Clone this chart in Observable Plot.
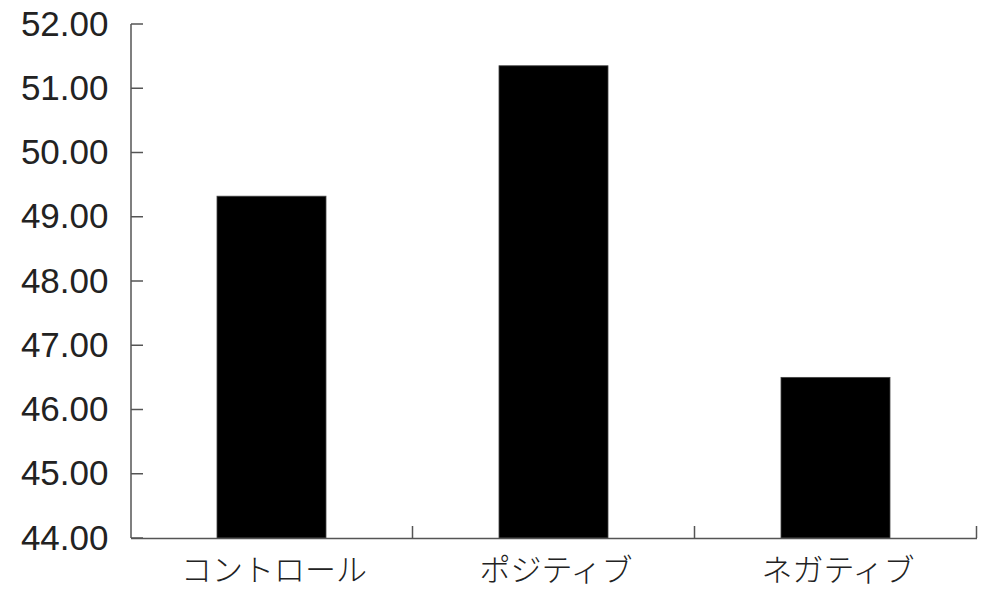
<!DOCTYPE html>
<html><head><meta charset="utf-8">
<script src="https://cdn.jsdelivr.net/npm/d3@7"></script>
<script src="https://cdn.jsdelivr.net/npm/@observablehq/plot@0.6"></script>
<style>
html,body{margin:0;padding:0;background:#fff;}
#chart{width:999px;height:607px;}
</style>
</head><body><div id="chart"></div>
<script>
const categories = ["コントロール", "ポジティブ", "ネガティブ"];
const values = [49.32, 51.35, 46.50];
const yTicks = [44, 45, 46, 47, 48, 49, 50, 51, 52];
const yBase = 44;

const data = categories.map((c, i) => ({cat: c, value: values[i]}));
const axisColor = "#555";

// axis lines, inward y ticks and category boundary ticks (drawn with the scales)
function axisDecor(index, scales, values, dims) {
  const x = scales.x, y = scales.y;
  const bw = x.bandwidth ? x.bandwidth() : 0;
  const step = x.step ? x.step() : 0;
  const g = d3.create("svg:g").attr("stroke", axisColor).attr("stroke-width", 1.5);
  const yb = dims.height - dims.marginBottom;
  const xl = dims.marginLeft;
  categories.forEach(c => {
    const right = x(c) + bw + (step - bw) / 2;
    g.append("line").attr("x1", right).attr("x2", right)
      .attr("y1", yb).attr("y2", yb - 12);
  });
  yTicks.forEach(t => {
    g.append("line").attr("x1", xl).attr("x2", xl + 12)
      .attr("y1", y(t)).attr("y2", y(t));
  });
  g.append("line").attr("x1", xl).attr("x2", xl)
    .attr("y1", dims.marginTop).attr("y2", yb);
  return g.node();
}

const plot = Plot.plot({
  width: 999,
  height: 607,
  marginLeft: 131,
  marginRight: 22,
  marginTop: 24,
  marginBottom: 69,
  style: {background: "#fff", color: "#222", overflow: "visible"},
  x: {domain: categories, padding: 0.613, paddingOuter: 0.3065, align: 0.5},
  y: {domain: [44, 52]},
  marks: [
    Plot.barY(data, {x: "cat", y1: () => yBase, y2: "value", fill: "#000", stroke: "#444", strokeWidth: 0.8}),
    Plot.ruleY([yBase], {stroke: axisColor, strokeWidth: 1.5}),
    Plot.axisY({ticks: yTicks, tickSize: 0, tickPadding: 23,
      tickFormat: d => d.toFixed(2), fontSize: 35, fontFamily: "Liberation Sans, Arial, sans-serif", fill: "#222", label: null}),
    Plot.axisX({tickSize: 0, tickPadding: 20, dx: 2, fontSize: 31, fontFamily: "Noto Sans CJK JP", fontWeight: 300, fill: "#222", label: null, letterSpacing: "4px"}),
    axisDecor
  ]
});
document.getElementById("chart").appendChild(plot);
</script>
</body></html>
